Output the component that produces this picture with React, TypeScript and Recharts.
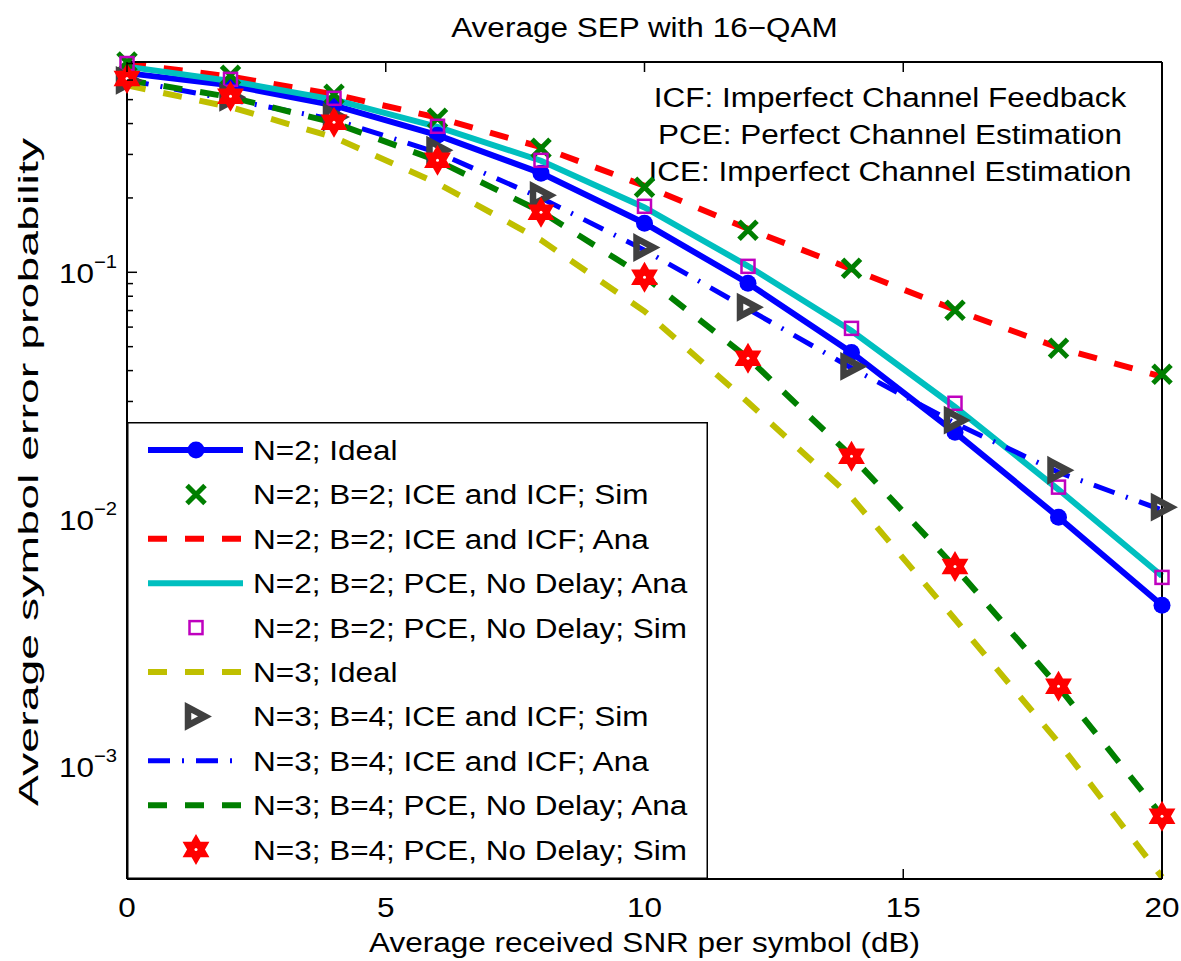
import React from 'react';
import { LineChart, Line, XAxis, YAxis, Legend, Customized } from 'recharts';

// SNR in dB
const snr = [0, 2, 4, 6, 8, 10, 12, 14, 16, 18, 20];

// N=2 curves
const n2Ideal = [0.64, 0.571, 0.474, 0.359, 0.252, 0.158, 0.0903, 0.0474, 0.0225, 0.0102, 0.00449];
const n2IceSim = [0.71, 0.628, 0.526, 0.42, 0.318, 0.221, 0.148, 0.1038, 0.0702, 0.0493, 0.0387];
const n2IceAna = [0.7, 0.62, 0.525, 0.423, 0.321, 0.224, 0.15, 0.103, 0.0705, 0.0495, 0.0378];
const n2PceAna = [0.68, 0.595, 0.5, 0.388, 0.283, 0.183, 0.106, 0.058, 0.0285, 0.0132, 0.0059];
const n2PceSim = [0.7, 0.604, 0.506, 0.39, 0.284, 0.185, 0.1057, 0.0593, 0.0295, 0.0135, 0.00582];

// N=3 curves
const n3Ideal = [0.571, 0.466, 0.352, 0.229, 0.135, 0.0695, 0.0298, 0.01228, 0.00394, 0.00125, 0.000356];
const n3IceSim = [0.598, 0.511, 0.425, 0.312, 0.205, 0.126, 0.0722, 0.0416, 0.0252, 0.0158, 0.0112];
const n3IceAna = [0.6, 0.5, 0.415, 0.305, 0.2, 0.123, 0.071, 0.041, 0.0245, 0.0155, 0.0109];
const n3PceAna = [0.6, 0.512, 0.403, 0.283, 0.176, 0.096, 0.045, 0.018, 0.0064, 0.0021, 0.00063];
const n3PceSim = [0.609, 0.516, 0.405, 0.284, 0.175, 0.0955, 0.0449, 0.018, 0.00645, 0.00211, 0.000628];

const xTicks = [0, 5, 10, 15, 20];
const yMajor = [0.001, 0.01, 0.1];
const yMinor = [
  0.0004, 0.0005, 0.0006, 0.0007, 0.0008, 0.0009,
  0.002, 0.003, 0.004, 0.005, 0.006, 0.007, 0.008, 0.009,
  0.02, 0.03, 0.04, 0.05, 0.06, 0.07, 0.08, 0.09,
  0.2, 0.3, 0.4, 0.5, 0.6, 0.7,
];
const yTicks = [...yMinor, ...yMajor].sort((a, b) => a - b);

const notes = [
  'ICF: Imperfect Channel Feedback',
  'PCE: Perfect Channel Estimation',
  'ICE: Imperfect Channel Estimation',
];

const FONT = '"Liberation Sans", Arial, Helvetica, sans-serif';
const STRETCH = 1.125;

type Series = {
  key: string;
  name: string;
  values: number[];
  color: string;
  width?: number;
  dash?: string;
  marker?: 'circle' | 'x' | 'square' | 'tri' | 'hex';
  line: boolean;
};

const series: Series[] = [
  { key: 'n2Ideal', name: 'N=2; Ideal', values: n2Ideal, color: '#0000FF', width: 6, marker: 'circle', line: true },
  { key: 'n2IceSim', name: 'N=2; B=2; ICE and ICF; Sim', values: n2IceSim, color: '#007F00', marker: 'x', line: false },
  { key: 'n2IceAna', name: 'N=2; B=2; ICE and ICF; Ana', values: n2IceAna, color: '#FF0000', width: 6, dash: '19 18', line: true },
  { key: 'n2PceAna', name: 'N=2; B=2; PCE, No Delay; Ana', values: n2PceAna, color: '#00BFBF', width: 6, line: true },
  { key: 'n2PceSim', name: 'N=2; B=2; PCE, No Delay; Sim', values: n2PceSim, color: '#BF00BF', marker: 'square', line: false },
  { key: 'n3Ideal', name: 'N=3; Ideal', values: n3Ideal, color: '#BFBF00', width: 6, dash: '19 18', line: true },
  { key: 'n3IceSim', name: 'N=3; B=4; ICE and ICF; Sim', values: n3IceSim, color: '#404040', marker: 'tri', line: false },
  { key: 'n3IceAna', name: 'N=3; B=4; ICE and ICF; Ana', values: n3IceAna, color: '#0000FF', width: 5, dash: '22 12 2 12', line: true },
  { key: 'n3PceAna', name: 'N=3; B=4; PCE, No Delay; Ana', values: n3PceAna, color: '#007F00', width: 6, dash: '19 18', line: true },
  { key: 'n3PceSim', name: 'N=3; B=4; PCE, No Delay; Sim', values: n3PceSim, color: '#FF0000', marker: 'hex', line: false },
];

const rows = snr.map((s, i) => {
  const row: Record<string, number> = { snr: s };
  series.forEach((sr) => (row[sr.key] = sr.values[i]));
  return row;
});

const SText = ({ x, y, children, anchor = 'start', size = 28, rotate = 0, stretch = STRETCH }: any) => (
  <text
    transform={`translate(${x},${y}) rotate(${rotate}) scale(${stretch},1)`}
    textAnchor={anchor}
    fontSize={size}
    fontFamily={FONT}
    fill="#000"
  >
    {children}
  </text>
);

const hexPath = (cx: number, cy: number, R: number) => {
  const r = R / Math.sqrt(3);
  let d = '';
  for (let k = 0; k < 12; k++) {
    const ang = (-90 + k * 30) * (Math.PI / 180);
    const rad = k % 2 === 0 ? R : r;
    d += `${k === 0 ? 'M' : 'L'}${cx + rad * Math.cos(ang)},${cy + rad * Math.sin(ang)}`;
  }
  return d + 'Z';
};

const Marker = ({ type, cx, cy, color }: { type: string; cx: number; cy: number; color: string }) => {
  switch (type) {
    case 'circle':
      return <circle cx={cx} cy={cy} r={8.5} fill={color} />;
    case 'x':
      return (
        <path
          d={`M${cx - 9},${cy - 9}L${cx + 9},${cy + 9}M${cx - 9},${cy + 9}L${cx + 9},${cy - 9}`}
          stroke={color}
          strokeWidth={5}
          fill="none"
        />
      );
    case 'square':
      return <rect x={cx - 6.5} y={cy - 6.5} width={13} height={13} fill="none" stroke={color} strokeWidth={2.5} />;
    case 'tri':
      return (
        <path
          d={`M${cx - 8},${cy - 9}L${cx + 9},${cy}L${cx - 8},${cy + 9}Z`}
          fill="none"
          stroke={color}
          strokeWidth={6.5}
          strokeLinejoin="miter"
        />
      );
    case 'hex':
      return (
        <g>
          <path d={hexPath(cx, cy, 15.5)} fill={color} />
          <circle cx={cx} cy={cy} r={1.5} fill="#fff" />
        </g>
      );
    default:
      return null;
  }
};

const YTick = ({ x, y, payload, side }: any) => {
  const v = payload.value;
  const major = yMajor.some((m) => Math.abs(m - v) < m * 1e-6);
  const len = major ? 10 : 6;
  const dir = side === 'left' ? 1 : -1;
  const exp = Math.round(Math.log10(v));
  return (
    <g>
      <line x1={x} x2={x + dir * len} y1={y} y2={y} stroke="#000" strokeWidth={1.5} />
      {side === 'left' && major && (
        <g transform={`translate(${x - 10},${y + 11}) scale(${STRETCH},1)`}>
          <text textAnchor="end" fontSize={28} fontFamily={FONT} fill="#000">
            10
            <tspan dy={-15} fontSize={18}>
              {'\u2212' + Math.abs(exp)}
            </tspan>
          </text>
        </g>
      )}
    </g>
  );
};

const XTick = ({ x, y, payload, side }: any) => {
  const dir = side === 'bottom' ? -1 : 1;
  return (
    <g>
      <line x1={x} x2={x} y1={y} y2={y + dir * 10} stroke="#000" strokeWidth={1.5} />
      {side === 'bottom' && (
        <SText x={x} y={y + 38} anchor="middle">
          {payload.value}
        </SText>
      )}
    </g>
  );
};

const LegendBox = () => {
  const w = 581;
  const h = 457;
  return (
    <svg width={w} height={h} style={{ display: 'block' }}>
      <rect x={0.75} y={0.75} width={w - 1.5} height={h - 1.5} fill="#fff" stroke="#000" strokeWidth={1.5} />
      {series.map((s, i) => {
        const cy = 28 + i * 44.4;
        return (
          <g key={s.key}>
            {s.line && (
              <line
                x1={21}
                x2={116}
                y1={cy}
                y2={cy}
                stroke={s.color}
                strokeWidth={s.width}
                strokeDasharray={s.dash}
              />
            )}
            {s.marker && <Marker type={s.marker} cx={69} cy={cy} color={s.color} />}
            <SText x={126} y={cy + 10}>
              {s.name}
            </SText>
          </g>
        );
      })}
    </svg>
  );
};

const Annotations = () => (
  <g>
    <SText x={644.5} y={37} anchor="middle">
      Average SEP with 16{'\u2212'}QAM
    </SText>
    <SText x={644.5} y={952} anchor="middle">
      Average received SNR per symbol (dB)
    </SText>
    <SText x={38} y={472} anchor="middle" rotate={-90} stretch={1.66}>
      Average symbol error probability
    </SText>
    {notes.map((t, i) => (
      <SText key={t} x={890} y={107 + i * 37} anchor="middle">
        {t}
      </SText>
    ))}
  </g>
);

export default function App() {
  return (
    <div style={{ position: 'absolute', left: 0, top: 0, background: '#fff' }}>
      <LineChart width={1181} height={961} data={rows} margin={{ top: 0, right: 0, bottom: 0, left: 0 }}>
        <XAxis
          dataKey="snr"
          type="number"
          domain={[0, 20]}
          ticks={xTicks}
          interval={0}
          height={82}
          tickSize={0}
          tickMargin={0}
          tickLine={false}
          axisLine={{ stroke: '#000', strokeWidth: 2 }}
          tick={(p: any) => <XTick {...p} side="bottom" />}
        />
        <XAxis
          xAxisId="top"
          orientation="top"
          dataKey="snr"
          type="number"
          domain={[0, 20]}
          ticks={xTicks}
          interval={0}
          height={62}
          tickSize={0}
          tickMargin={0}
          tickLine={false}
          axisLine={{ stroke: '#000', strokeWidth: 2 }}
          tick={(p: any) => <XTick {...p} side="top" />}
        />
        <YAxis
          type="number"
          scale="log"
          domain={[0.00035, 0.71]}
          ticks={yTicks}
          interval={0}
          width={127}
          tickSize={0}
          tickMargin={0}
          tickLine={false}
          axisLine={{ stroke: '#000', strokeWidth: 2 }}
          tick={(p: any) => <YTick {...p} side="left" />}
        />
        <YAxis
          yAxisId="right"
          orientation="right"
          type="number"
          scale="log"
          domain={[0.00035, 0.71]}
          ticks={yTicks}
          interval={0}
          width={19}
          tickSize={0}
          tickMargin={0}
          tickLine={false}
          axisLine={{ stroke: '#000', strokeWidth: 2 }}
          tick={(p: any) => <YTick {...p} side="right" />}
        />
        {series.map((s) => (
          <Line
            key={s.key}
            type="linear"
            dataKey={s.key}
            name={s.name}
            stroke={s.line ? s.color : 'none'}
            strokeWidth={s.line ? s.width : 0}
            strokeDasharray={s.dash}
            isAnimationActive={false}
            activeDot={false}
            dot={
              s.marker
                ? (p: any) => <Marker key={`${s.key}-${p.index}`} type={s.marker!} cx={p.cx} cy={p.cy} color={s.color} />
                : false
            }
          />
        ))}
        <Legend
          layout="horizontal"
          verticalAlign="middle"
          align="center"
          content={() => <LegendBox />}
          wrapperStyle={{ left: 127, top: 422, width: 581, height: 457 }}
        />
        <Customized component={Annotations} />
      </LineChart>
    </div>
  );
}
